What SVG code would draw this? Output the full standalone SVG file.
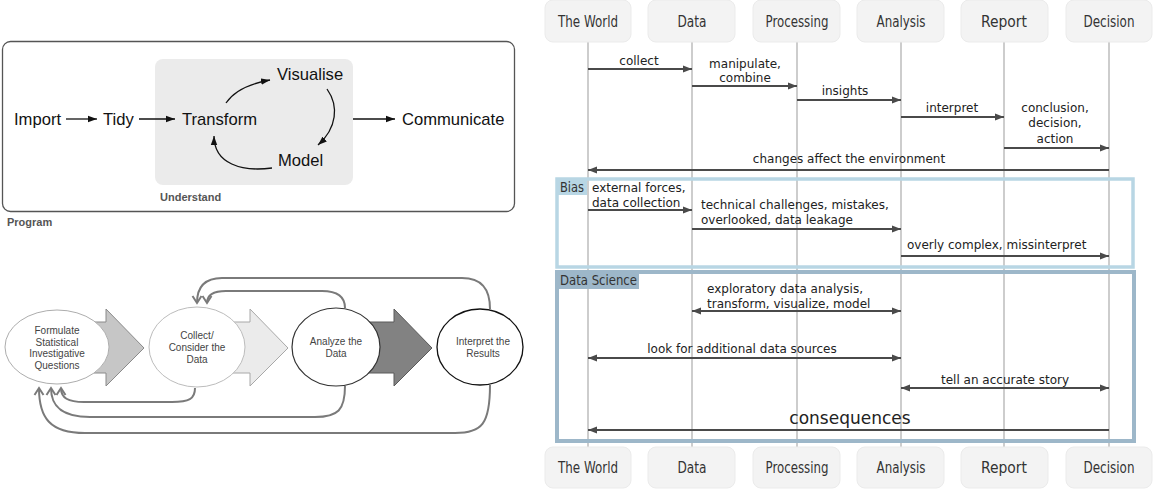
<svg xmlns="http://www.w3.org/2000/svg" width="1153" height="498" viewBox="0 0 1153 498">
<style>
.tidy{font-family:"Liberation Sans",Arial,sans-serif;font-size:16.6px;fill:#111}
.lbl{font-family:"Liberation Sans",Arial,sans-serif;font-size:11px;font-weight:bold;fill:#555}
.st{font-family:"Liberation Sans",Arial,sans-serif;font-size:10px;fill:#444;text-anchor:middle}
.hdr{font-family:"DejaVu Sans Condensed","DejaVu Sans",sans-serif;font-size:15px;fill:#333;text-anchor:middle}
.grp{font-family:"DejaVu Sans Condensed","DejaVu Sans",sans-serif;font-size:14px;fill:#333}
.hbox{fill:#f3f3f3;stroke:#ebebeb;stroke-width:1}
.life{stroke:#bdbdbd;stroke-width:1.5}
.msg{font-family:"DejaVu Sans",sans-serif;font-size:12px;fill:#222}
.big{font-size:17px}
.mc{text-anchor:middle}
.ml{stroke:#4a4a4a;stroke-width:2;fill:none}
.tl{stroke:#111;stroke-width:1.3;fill:none}
.fb{stroke:#7a7a7a;stroke-width:2;fill:none;marker-end:url(#fbh)}
</style>
<defs>
<marker id="sa" markerUnits="userSpaceOnUse" markerWidth="10" markerHeight="8" refX="9" refY="4" orient="auto-start-reverse"><path d="M0,0.5 L9,4 L0,7.5 z" fill="#4a4a4a"/></marker>
<marker id="ta" markerUnits="userSpaceOnUse" markerWidth="10" markerHeight="8" refX="9" refY="4" orient="auto"><path d="M0,0.8 L9,4 L0,7.2 z" fill="#111"/></marker>
<marker id="fbh" markerUnits="userSpaceOnUse" markerWidth="12" markerHeight="12" refX="9" refY="6" orient="auto"><path d="M2,1.5 L9,6 L2,10.5" fill="none" stroke="#7a7a7a" stroke-width="2"/></marker>
</defs>

<!-- Tidy workflow diagram -->
<g id="program">
<rect x="2.5" y="41.5" width="512" height="170" rx="8" fill="#fff" stroke="#555" stroke-width="1.3"/>
<text class="lbl" x="7" y="226">Program</text>
</g>
<g id="understand">
<rect x="155" y="59" width="198" height="126" rx="8" fill="#ebebeb"/>
<text class="lbl" x="160" y="201">Understand</text>
</g>
<g id="import"><text class="tidy" x="14" y="125">Import</text></g>
<g id="tidy"><text class="tidy" x="103" y="125">Tidy</text></g>
<g id="transform"><text class="tidy" x="182" y="125">Transform</text></g>
<g id="visualise"><text class="tidy" x="277" y="80">Visualise</text></g>
<g id="model"><text class="tidy" x="278" y="166">Model</text></g>
<g id="communicate"><text class="tidy" x="402" y="125">Communicate</text></g>
<g id="tidy-connectors">
<line class="tl" x1="66" y1="119" x2="97" y2="119" marker-end="url(#ta)"/>
<line class="tl" x1="139" y1="119" x2="175" y2="119" marker-end="url(#ta)"/>
<line class="tl" x1="353" y1="119" x2="395" y2="119" marker-end="url(#ta)"/>
<path class="tl" d="M226,103 C234,91 248,84 270,80" marker-end="url(#ta)"/>
<path class="tl" d="M327,89 C339,106 337,128 318,145" marker-end="url(#ta)"/>
<path class="tl" d="M272,168 C242,172 214,164 214,136" marker-end="url(#ta)"/>
</g>

<!-- Statistical investigation cycle -->
<g id="block-arrows">
<path d="M60,322 L106,322 L106,309 L144,348 L106,386 L106,373 L60,373 z" fill="#c6c6c6" stroke="#8a8a8a" stroke-width="1"/>
<path d="M200,322 L250,322 L250,309 L288,348 L250,386 L250,373 L200,373 z" fill="#ebebeb" stroke="#a8a8a8" stroke-width="1"/>
<path d="M340,322 L394,322 L394,309 L432,348 L394,386 L394,373 L340,373 z" fill="#828282" stroke="#5a5a5a" stroke-width="1"/>
</g>
<g id="formulate">
<ellipse cx="57" cy="347" rx="52" ry="37" fill="#fff" stroke="#adadad" stroke-width="1"/>
<text class="st" x="57" y="334">Formulate</text>
<text class="st" x="57" y="346">Statistical</text>
<text class="st" x="57" y="357">Investigative</text>
<text class="st" x="57" y="369">Questions</text>
</g>
<g id="collect">
<ellipse cx="197" cy="347" rx="48" ry="40" fill="#fff" stroke="#bcbcbc" stroke-width="1"/>
<text class="st" x="197" y="339">Collect/</text>
<text class="st" x="197" y="351">Consider the</text>
<text class="st" x="197" y="363">Data</text>
</g>
<g id="analyze">
<ellipse cx="336" cy="347" rx="44" ry="39" fill="#fff" stroke="#333" stroke-width="1.2"/>
<text class="st" x="336" y="345">Analyze the</text>
<text class="st" x="336" y="357">Data</text>
</g>
<g id="interpret">
<ellipse cx="480" cy="347" rx="43" ry="38" fill="#fff" stroke="#111" stroke-width="1.3"/>
<text class="st" x="483" y="345">Interpret the</text>
<text class="st" x="483" y="357">Results</text>
</g>
<g id="feedback-connectors">
<path class="fb" d="M345,308 C345,297 338,291 322,291 L226,291 C213,291 207,295 207,303"/>
<path class="fb" d="M490,309 C490,289 482,278 462,278 L222,278 C204,278 197,288 197,303"/>
<path class="fb" d="M195,388 C195,399 189,402 172,402 L84,402 C68,402 61,398 61,388"/>
<path class="fb" d="M345,386 C345,410 338,417 315,417 L90,417 C60,417 51,405 51,388"/>
<path class="fb" d="M490,385 C490,424 482,433 455,433 L85,433 C50,433 39,418 39,388"/>
</g>

<!-- Sequence diagram -->
<g id="lifelines">
<line class="life" x1="588" y1="42" x2="588" y2="447"/>
<line class="life" x1="692" y1="42" x2="692" y2="447"/>
<line class="life" x1="797" y1="42" x2="797" y2="447"/>
<line class="life" x1="901" y1="42" x2="901" y2="447"/>
<line class="life" x1="1004" y1="42" x2="1004" y2="447"/>
<line class="life" x1="1109" y1="42" x2="1109" y2="447"/>
</g>
<g id="bias">
<rect x="557" y="179" width="576" height="88" fill="none" stroke="#b8d6e4" stroke-width="3.5"/>
<rect x="556" y="178" width="31" height="17" fill="#b8d6e4"/>
<text class="grp" x="560" y="192" textLength="24" lengthAdjust="spacingAndGlyphs">Bias</text>
</g>
<g id="data-science">
<rect x="557" y="272" width="577" height="169" fill="none" stroke="#9db7c9" stroke-width="4"/>
<rect x="556" y="271" width="83" height="18" fill="#9db7c9"/>
<text class="grp" x="560" y="285" textLength="77" lengthAdjust="spacingAndGlyphs">Data Science</text>
</g>

<g id="hdr-world-top"><rect class="hbox" x="545" y="0" width="86" height="42" rx="8"/><text class="hdr" x="588" y="27" textLength="60" lengthAdjust="spacingAndGlyphs">The World</text></g>
<g id="hdr-data-top"><rect class="hbox" x="648" y="0" width="87" height="42" rx="8"/><text class="hdr" x="692" y="27" textLength="29" lengthAdjust="spacingAndGlyphs">Data</text></g>
<g id="hdr-processing-top"><rect class="hbox" x="753" y="0" width="87" height="42" rx="8"/><text class="hdr" x="797" y="27" textLength="63" lengthAdjust="spacingAndGlyphs">Processing</text></g>
<g id="hdr-analysis-top"><rect class="hbox" x="857" y="0" width="87" height="42" rx="8"/><text class="hdr" x="901" y="27" textLength="49" lengthAdjust="spacingAndGlyphs">Analysis</text></g>
<g id="hdr-report-top"><rect class="hbox" x="961" y="0" width="87" height="42" rx="8"/><text class="hdr" x="1004" y="27" textLength="46" lengthAdjust="spacingAndGlyphs">Report</text></g>
<g id="hdr-decision-top"><rect class="hbox" x="1066" y="0" width="86" height="42" rx="8"/><text class="hdr" x="1109" y="27" textLength="51" lengthAdjust="spacingAndGlyphs">Decision</text></g>

<g id="hdr-world-bottom"><rect class="hbox" x="545" y="447" width="86" height="41" rx="8"/><text class="hdr" x="588" y="473" textLength="60" lengthAdjust="spacingAndGlyphs">The World</text></g>
<g id="hdr-data-bottom"><rect class="hbox" x="648" y="447" width="87" height="41" rx="8"/><text class="hdr" x="692" y="473" textLength="29" lengthAdjust="spacingAndGlyphs">Data</text></g>
<g id="hdr-processing-bottom"><rect class="hbox" x="753" y="447" width="87" height="41" rx="8"/><text class="hdr" x="797" y="473" textLength="63" lengthAdjust="spacingAndGlyphs">Processing</text></g>
<g id="hdr-analysis-bottom"><rect class="hbox" x="857" y="447" width="87" height="41" rx="8"/><text class="hdr" x="901" y="473" textLength="49" lengthAdjust="spacingAndGlyphs">Analysis</text></g>
<g id="hdr-report-bottom"><rect class="hbox" x="961" y="447" width="87" height="41" rx="8"/><text class="hdr" x="1004" y="473" textLength="46" lengthAdjust="spacingAndGlyphs">Report</text></g>
<g id="hdr-decision-bottom"><rect class="hbox" x="1066" y="447" width="86" height="41" rx="8"/><text class="hdr" x="1109" y="473" textLength="51" lengthAdjust="spacingAndGlyphs">Decision</text></g>

<g id="messages">
<line class="ml" x1="588" y1="69" x2="692" y2="69" marker-end="url(#sa)"/>
<line class="ml" x1="692" y1="86" x2="797" y2="86" marker-end="url(#sa)"/>
<line class="ml" x1="797" y1="100" x2="901" y2="100" marker-end="url(#sa)"/>
<line class="ml" x1="901" y1="117" x2="1004" y2="117" marker-end="url(#sa)"/>
<line class="ml" x1="1004" y1="148" x2="1109" y2="148" marker-end="url(#sa)"/>
<line class="ml" x1="1109" y1="170" x2="588" y2="170" marker-end="url(#sa)"/>
<line class="ml" x1="588" y1="210" x2="692" y2="210" marker-end="url(#sa)"/>
<line class="ml" x1="692" y1="229" x2="901" y2="229" marker-end="url(#sa)"/>
<line class="ml" x1="901" y1="256" x2="1109" y2="256" marker-end="url(#sa)"/>
<line class="ml" x1="692" y1="311" x2="901" y2="311" marker-start="url(#sa)" marker-end="url(#sa)"/>
<line class="ml" x1="588" y1="358" x2="901" y2="358" marker-start="url(#sa)" marker-end="url(#sa)"/>
<line class="ml" x1="901" y1="388" x2="1109" y2="388" marker-start="url(#sa)" marker-end="url(#sa)"/>
<line class="ml" x1="1109" y1="430" x2="588" y2="430" marker-end="url(#sa)"/>
</g>
<g id="message-labels">
<text class="msg mc" x="639" y="65">collect</text>
<text class="msg mc" x="745" y="68">manipulate,</text>
<text class="msg mc" x="745" y="82">combine</text>
<text class="msg mc" x="845" y="95">insights</text>
<text class="msg mc" x="952" y="112">interpret</text>
<text class="msg mc" x="1055" y="112">conclusion,</text>
<text class="msg mc" x="1055" y="127">decision,</text>
<text class="msg mc" x="1055" y="143">action</text>
<text class="msg mc" x="849" y="163">changes affect the environment</text>
<text class="msg" x="592" y="192">external forces,</text>
<text class="msg" x="592" y="207">data collection</text>
<text class="msg" x="701" y="209">technical challenges, mistakes,</text>
<text class="msg" x="701" y="224">overlooked, data leakage</text>
<text class="msg" x="907" y="249">overly complex, missinterpret</text>
<text class="msg" x="707" y="293">exploratory data analysis,</text>
<text class="msg" x="707" y="308">transform, visualize, model</text>
<text class="msg mc" x="742" y="353">look for additional data sources</text>
<text class="msg mc" x="1005" y="384">tell an accurate story</text>
<text class="msg mc big" x="850" y="424">consequences</text>
</g>
</svg>
